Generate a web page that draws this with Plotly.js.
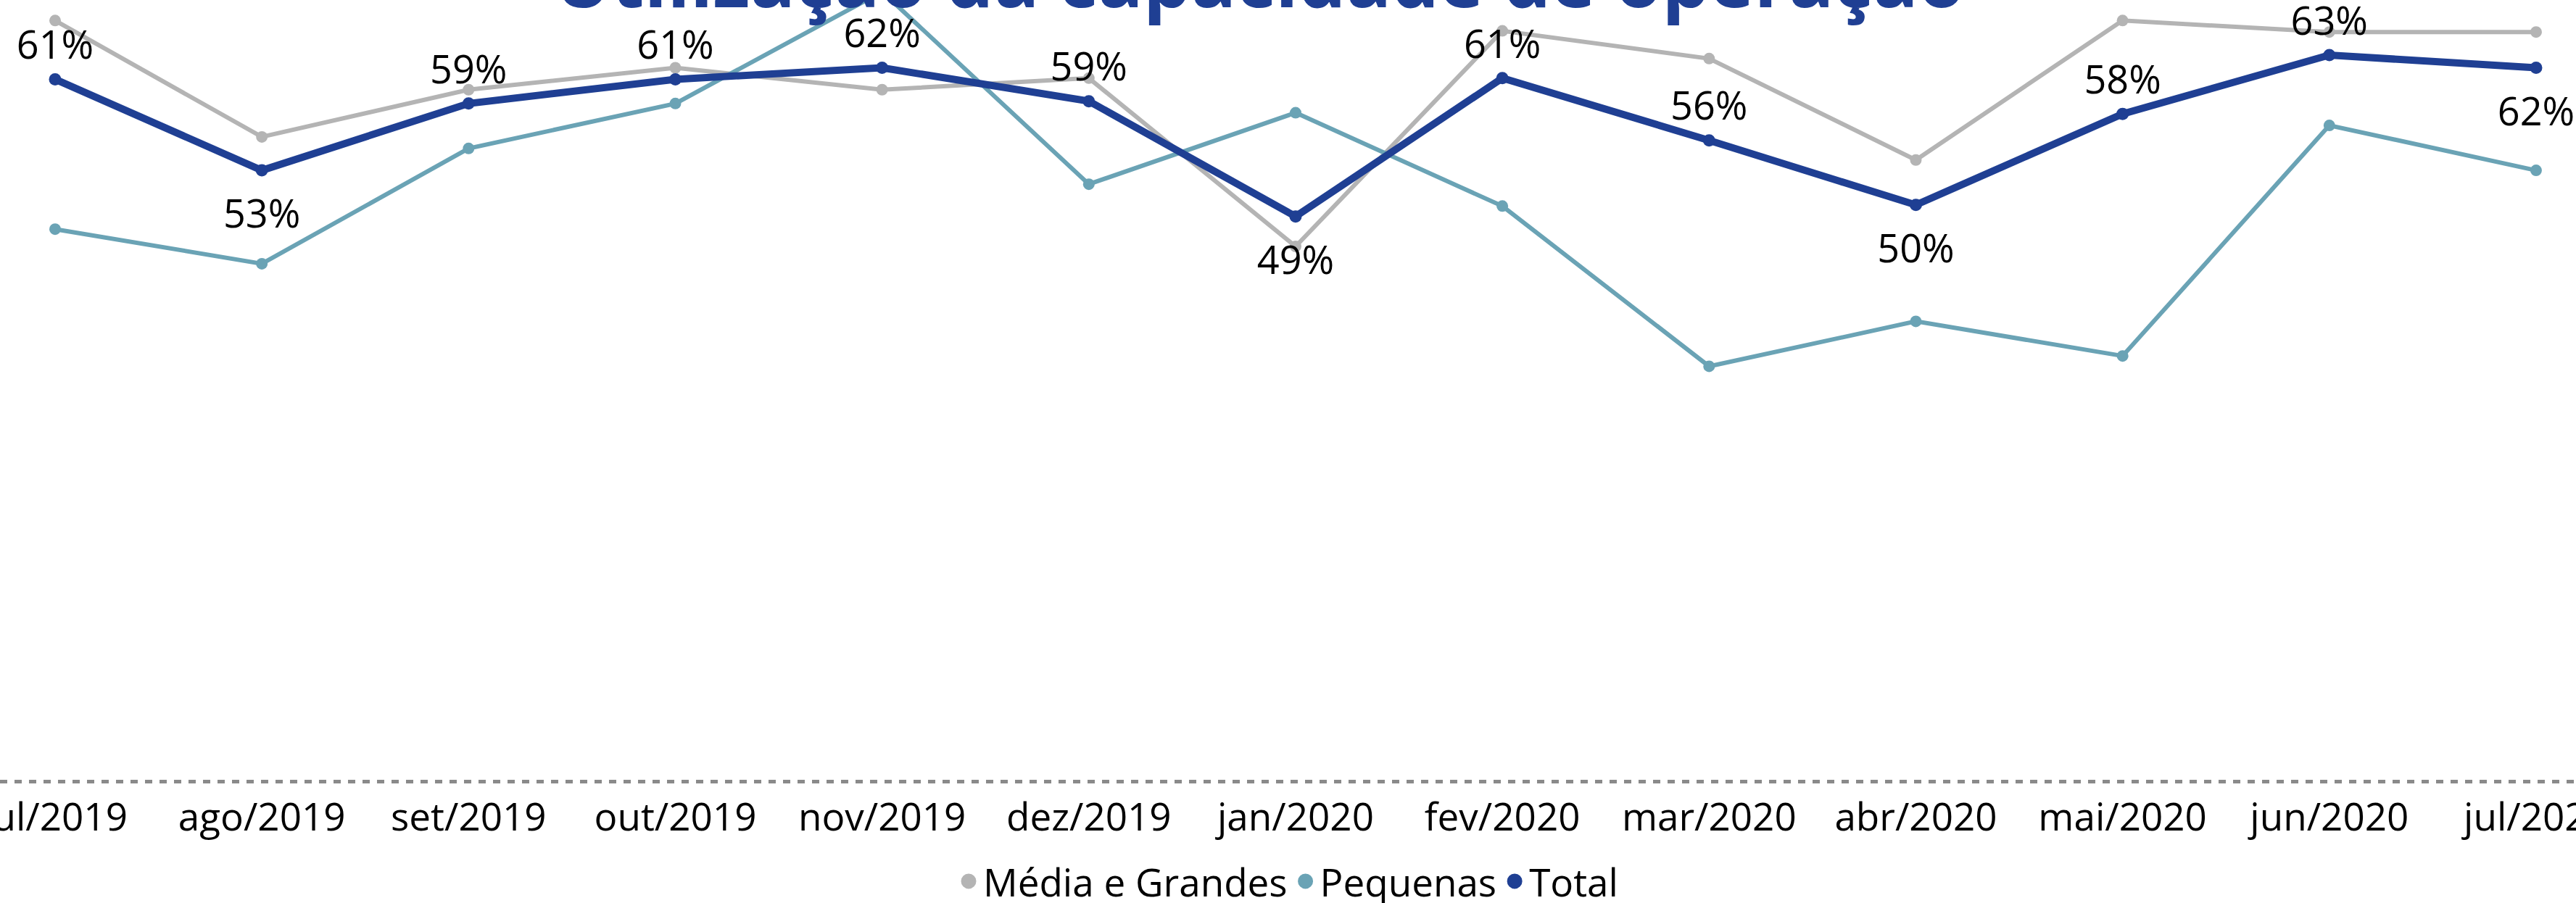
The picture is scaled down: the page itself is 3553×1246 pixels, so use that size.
<!DOCTYPE html>
<html>
<head>
<meta charset="utf-8">
<script src="https://cdn.plot.ly/plotly-3.0.1.min.js"></script>
<style>
  html, body { margin: 0; padding: 0; background: #ffffff; }
  #chart { width: 3553px; height: 1246px; }
</style>
</head>
<body>
<div id="chart"></div>
<script>
// ---- data ----
const months = ["jul/2019", "ago/2019", "set/2019", "out/2019", "nov/2019", "dez/2019",
                "jan/2020", "fev/2020", "mar/2020", "abr/2020", "mai/2020", "jun/2020", "jul/2020"];
const mediaGrandes = [66.0, 55.9, 60.0, 61.9, 60.0, 61.0, 46.4, 65.1, 62.7, 53.9, 66.0, 65.0, 65.0];
const pequenas     = [47.9, 44.9, 54.9, 58.8, 68.5, 51.8, 58.0, 49.9, 36.0, 39.9, 36.9, 56.9, 53.0];
const total        = [60.9, 53.0, 58.8, 60.9, 61.9, 59.0, 49.0, 61.0, 55.6, 50.0, 57.9, 63.0, 61.9];
const totalLabelPos = ["top center", "bottom center", "top center", "top center", "top center", "top center",
                       "bottom center", "top center", "top center", "bottom center", "top center", "top center", "bottom center"];
const seriesNames = ["Média e Grandes", "Pequenas", "Total"];
const chartTitle = "Utilização da capacidade de operação";

// ---- styles ----
const colGray = "#B4B4B4";
const colTeal = "#6AA3B5";
const colNavy = "#1F3F93";
const fontFam = "'Open Sans', 'Noto Sans', sans-serif";

// spacing between a label and its point (label-above vs label-below)
const labelGap = totalLabelPos.map(p => (p === "bottom center" ? 60 : 22));

const traces = [
  { x: months, y: mediaGrandes, type: "scatter", mode: "lines+markers", name: seriesNames[0],
    line: { color: colGray, width: 6 }, marker: { color: colGray, size: 16 },
    showlegend: false, legendgroup: "a" },
  { x: months, y: pequenas, type: "scatter", mode: "lines+markers", name: seriesNames[1],
    line: { color: colTeal, width: 6 }, marker: { color: colTeal, size: 16 },
    showlegend: false, legendgroup: "b" },
  { x: months, y: total, type: "scatter", mode: "lines+markers", name: seriesNames[2],
    line: { color: colNavy, width: 10 }, marker: { color: colNavy, size: 17 },
    showlegend: false, legendgroup: "c" },
  // data labels of Total
  { x: months, y: total, type: "scatter", mode: "markers+text", name: seriesNames[2] + " rótulos",
    marker: { color: colNavy, size: labelGap, opacity: 0 },
    texttemplate: "%{y:.0f}%", textposition: totalLabelPos,
    textfont: { family: fontFam, size: 54, color: "#000000" },
    cliponaxis: false, showlegend: false, legendgroup: "c" },
  // legend entries (marker-only symbols)
  { x: [null], y: [null], type: "scatter", mode: "markers", name: seriesNames[0], legendgroup: "a",
    marker: { color: colGray, size: 16, line: { color: colGray, width: 5 } }, showlegend: true },
  { x: [null], y: [null], type: "scatter", mode: "markers", name: seriesNames[1], legendgroup: "b",
    marker: { color: colTeal, size: 16, line: { color: colTeal, width: 5 } }, showlegend: true },
  { x: [null], y: [null], type: "scatter", mode: "markers", name: seriesNames[2], legendgroup: "c",
    marker: { color: colNavy, size: 16, line: { color: colNavy, width: 5 } }, showlegend: true }
];

const layout = {
  width: 3553,
  height: 1246,
  paper_bgcolor: "#ffffff",
  plot_bgcolor: "#ffffff",
  margin: { l: 0, r: 0, t: 0, b: 166, pad: 0 },
  font: { family: fontFam, color: "#000000", size: 53 },
  title: {
    text: chartTitle,
    font: { family: fontFam, size: 104, color: colNavy, weight: "bold" },
    x: 0.489, xanchor: "center", xref: "paper",
    y: 1 - 10 / 1246, yanchor: "bottom", yref: "container"
  },
  xaxis: {
    type: "category",
    categoryorder: "array",
    categoryarray: months,
    range: [-0.2665, 12.193],
    showgrid: false, zeroline: false, showline: false,
    ticks: "", automargin: false, ticklabelstandoff: 12,
    tickfont: { family: fontFam, size: 53, color: "#000000" },
    fixedrange: true
  },
  yaxis: {
    range: [-0.126, 67.78],
    showticklabels: false,
    tickvals: [0],
    showgrid: true, gridcolor: "#8A8A8A", gridwidth: 5, griddash: "10px,10px",
    zeroline: false, showline: false, ticks: "", automargin: false,
    fixedrange: true
  },
  showlegend: true,
  legend: {
    orientation: "h",
    x: 0.5, xanchor: "center", xref: "paper",
    y: 1 - 1216 / 1246, yanchor: "middle", yref: "container",
    font: { family: fontFam, size: 53, color: "#000000" },
    bgcolor: "rgba(0,0,0,0)",
    itemclick: false, itemdoubleclick: false
  },
  hovermode: false
};

Plotly.newPlot("chart", traces, layout, { displayModeBar: false, staticPlot: true });
</script>
</body>
</html>
